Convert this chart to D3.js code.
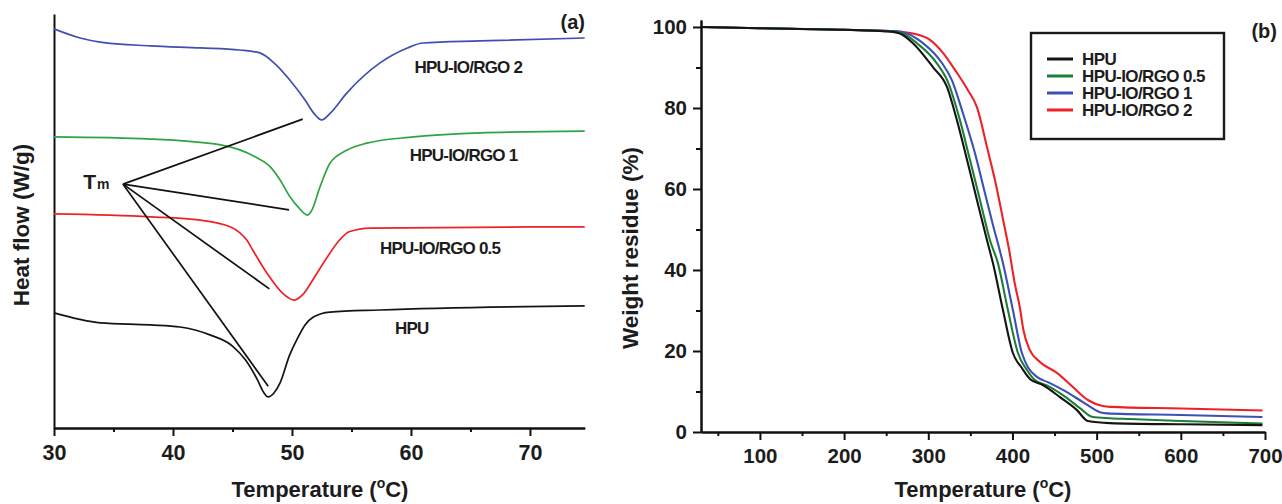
<!DOCTYPE html>
<html>
<head>
<meta charset="utf-8">
<script src="https://cdn.jsdelivr.net/npm/d3@7"></script>
<style>
  html, body { margin: 0; padding: 0; background: #fff; }
  svg { display: block; font-family: "Liberation Sans", Arial, sans-serif; }
</style>
</head>
<body>
<svg id="chart" width="1282" height="504"></svg>
<script>
// ---------------- DATA ----------------
// Panel (a): DSC curves, [temperature °C, heat flow (arbitrary, stacked)]
const dscHPU = [[30,2.78],[33.9,2.54],[38.1,2.49],[40.6,2.44],[43.1,2.25],[45.0,1.98],[46.1,1.64],[47.1,1.16],[47.6,0.87],[48.0,0.75],[48.5,0.85],[49.0,1.09],[49.8,1.76],[50.4,2.13],[51.1,2.49],[51.8,2.68],[53.2,2.80],[57.4,2.85],[74.6,2.95]];
const dscRGO05 = [[30,5.17],[38.1,5.10],[42.3,5.02],[44.8,4.86],[45.6,4.72],[46.2,4.54],[46.7,4.30],[47.9,3.74],[49.2,3.26],[50.2,3.09],[50.9,3.22],[51.8,3.60],[52.9,4.10],[54.0,4.54],[54.8,4.74],[56.6,4.83],[74.6,4.86]];
const dscRGO1 = [[30,7.03],[38.1,6.98],[44.0,6.84],[46.9,6.55],[48.2,6.30],[49.0,5.99],[49.8,5.60],[50.6,5.31],[51.0,5.19],[51.3,5.14],[51.65,5.25],[52.35,5.82],[53.2,6.40],[54.6,6.71],[56.3,6.88],[60.2,7.03],[65.8,7.13],[74.6,7.17]];
const dscRGO2 = [[30,9.64],[32.2,9.42],[33.9,9.32],[38.1,9.23],[42.3,9.18],[45.6,9.13],[47.3,9.06],[48.6,8.79],[49.8,8.41],[51.1,7.92],[51.9,7.58],[52.5,7.44],[53.2,7.60],[54.6,8.09],[57.4,8.82],[59.7,9.18],[61.0,9.30],[65.8,9.35],[74.6,9.42]];
const dscLabels = ["HPU", "HPU-IO/RGO 0.5", "HPU-IO/RGO 1", "HPU-IO/RGO 2"];
const dscColors = ["#141414", "#ee2127", "#2ea443", "#3f4fb2"];
const dscXTicks = [30, 40, 50, 60, 70];
const dscXMinor = [35, 45, 55, 65];
// Tm pointers: origin and peak targets [T, heat flow]
const tmOrigin = [35.8, 5.89];
const tmTargets = [[50.9, 7.46], [49.75, 5.27], [48.1, 3.36], [48.0, 1.01]];

// Panel (b): TGA curves, [temperature °C, weight residue %]
const tgaHPU = [[30,100],[100,99.7],[200,99.3],[242.6,99.0],[258,98.8],[266.3,98.4],[281.8,96.0],[305.5,90.1],[322.2,85.2],[334,77.0],[346,67.2],[357.8,57.3],[369.7,47.4],[376.8,41.7],[388.7,30.1],[400.5,19.5],[411.2,15.8],[420.7,13.1],[436.2,11.6],[456.4,8.6],[476.6,5.4],[489.6,2.7],[515.7,2.2],[600,1.9],[697,1.7]];
const tgaRGO05 = [[30,100],[100,99.7],[200,99.3],[242.6,99.0],[258,98.9],[270,98.4],[286.5,96.0],[310,91.1],[323.4,86.4],[337.6,77.0],[349.5,67.2],[361.4,57.3],[373.2,47.4],[382.7,41.7],[394.6,30.1],[406.5,19.5],[417.2,15.3],[426.7,12.8],[442.1,11.4],[459.9,9.1],[480.1,5.9],[495.5,3.7],[515.7,3.4],[540,3.2],[600,2.7],[697,2.1]];
const tgaRGO1 = [[30,100],[100,99.7],[200,99.3],[242.6,99.1],[260,99.0],[274.7,98.4],[293.7,96.0],[316.2,91.1],[328,86.9],[341,78.8],[355.4,68.9],[367.3,59.0],[377,51.0],[388.7,41.7],[400.5,30.1],[411.2,19.5],[418.4,16.0],[429,13.6],[442.1,12.3],[459.9,10.4],[483.7,7.4],[503.9,4.9],[512,4.6],[600,4.2],[697,3.7]];
const tgaRGO2 = [[30,100],[100,99.7],[200,99.3],[242.6,99.1],[265,98.9],[281.8,98.4],[302,96.8],[317.4,93.6],[331.7,89.4],[347.1,84.4],[357.8,80.2],[369.7,70.4],[379.2,62.2],[389,52.3],[396,45.0],[402.9,36.5],[409,30.5],[413,25.2],[420.7,20.2],[432.6,17.3],[452.8,14.6],[471.8,11.1],[489.6,7.9],[507.4,6.4],[516,6.2],[600,5.8],[697,5.3]];
const tgaLabels = ["HPU", "HPU-IO/RGO 0.5", "HPU-IO/RGO 1", "HPU-IO/RGO 2"];
const tgaColors = ["#141414", "#1f7d38", "#3c50b6", "#ee2127"];
const tgaXTicks = [100, 200, 300, 400, 500, 600, 700];
const tgaXMinor = [50, 150, 250, 350, 450, 550, 650];
const tgaYTicks = [0, 20, 40, 60, 80, 100];
const tgaYMinor = [10, 30, 50, 70, 90];

// ---------------- DRAW ----------------
const svg = d3.select("#chart");
const FONT = '"Liberation Sans", Arial, sans-serif';
const TXT = "#1c1c1c";

function styleAxis(g, fs) {
  g.select(".domain").attr("stroke", "#111").attr("stroke-width", 2);
  g.selectAll(".tick line").attr("stroke", "#111").attr("stroke-width", 2);
  g.selectAll(".tick text").attr("fill", TXT).attr("font-size", fs)
    .attr("font-weight", "bold").attr("font-family", FONT);
}

function tempTitle(x, y) {
  const t = svg.append("text").attr("x", x).attr("y", y).attr("text-anchor", "middle")
    .attr("font-size", 22).attr("font-weight", "bold").attr("fill", TXT);
  t.append("tspan").text("Temperature (");
  t.append("tspan").attr("font-size", 14).attr("dy", -9).text("o");
  t.append("tspan").attr("dy", 9).text("C)");
}

// ---- Panel (a) ----
const xA = d3.scaleLinear().domain([30, 74.6]).range([54, 584.7]);
const yA = d3.scaleLinear().domain([0, 10]).range([428, 14]);

svg.append("g").attr("transform", `translate(0,${yA(0)})`)
  .call(d3.axisBottom(xA).tickValues(dscXMinor).tickSize(4).tickSizeOuter(0).tickFormat(""))
  .call(g => styleAxis(g, 21.5));
svg.append("g").attr("transform", `translate(0,${yA(0)})`)
  .call(d3.axisBottom(xA).tickValues(dscXTicks).tickSize(8).tickPadding(8.8).tickSizeOuter(0).tickFormat(d3.format("d")))
  .call(g => styleAxis(g, 21.5));
svg.append("g").attr("transform", `translate(${xA(30)},0)`)
  .call(d3.axisLeft(yA).tickValues([]).tickSizeOuter(0))
  .call(g => styleAxis(g, 21.5));

const lineA = d3.line().x(d => xA(d[0])).y(d => yA(d[1])).curve(d3.curveMonotoneX);
[dscHPU, dscRGO05, dscRGO1, dscRGO2].forEach((s, i) => {
  svg.append("path").datum(s).attr("d", lineA).attr("fill", "none")
    .attr("stroke", dscColors[i]).attr("stroke-width", 1.7).attr("stroke-linejoin", "round");
});

// Tm pointer lines
tmTargets.forEach(t => {
  svg.append("line").attr("x1", xA(tmOrigin[0])).attr("y1", yA(tmOrigin[1]))
    .attr("x2", xA(t[0])).attr("y2", yA(t[1])).attr("stroke", "#111").attr("stroke-width", 1.7);
});
const tm = svg.append("text").attr("x", xA(32.45)).attr("y", yA(5.77))
  .attr("font-size", 21).attr("fill", TXT).attr("font-weight", "bold");
tm.append("tspan").text("T");
tm.append("tspan").attr("font-size", 14).attr("dx", 1).text("m");

// Series labels in panel (a)
const dscLabelPos = [[58.65, 2.42], [57.4, 4.35], [59.9, 6.59], [60.3, 8.72]];
dscLabels.forEach((l, i) => {
  svg.append("text").attr("x", xA(dscLabelPos[i][0])).attr("y", yA(dscLabelPos[i][1]))
    .attr("dy", "0.36em").attr("font-size", 17).attr("font-weight", "bold")
    .attr("letter-spacing", "-0.8px").attr("fill", TXT).text(l);
});

svg.append("text").attr("x", 585).attr("y", 29).attr("text-anchor", "end")
  .attr("font-size", 20).attr("font-weight", "bold").attr("fill", TXT).text("(a)");
tempTitle(320, 497);
svg.append("text").attr("transform", "translate(29,225) rotate(-90)").attr("text-anchor", "middle")
  .attr("font-size", 22.5).attr("font-weight", "bold").attr("fill", TXT).text("Heat flow (W/g)");

// ---- Panel (b) ----
const xB = d3.scaleLinear().domain([30, 700]).range([701, 1265]);
const yB = d3.scaleLinear().domain([0, 101.7]).range([432, 20.1]);

svg.append("g").attr("transform", `translate(0,${yB(0)})`)
  .call(d3.axisBottom(xB).tickValues(tgaXMinor).tickSize(4).tickSizeOuter(0).tickFormat(""))
  .call(g => styleAxis(g, 20.5));
svg.append("g").attr("transform", `translate(0,${yB(0)})`)
  .call(d3.axisBottom(xB).tickValues(tgaXTicks).tickSize(8).tickPadding(8.6).tickSizeOuter(0).tickFormat(d3.format("d")))
  .call(g => styleAxis(g, 20.5));
svg.append("g").attr("transform", `translate(${xB(30)},0)`)
  .call(d3.axisLeft(yB).tickValues(tgaYMinor).tickSize(5).tickSizeOuter(0).tickFormat(""))
  .call(g => styleAxis(g, 20.5));
svg.append("g").attr("transform", `translate(${xB(30)},0)`)
  .call(d3.axisLeft(yB).tickValues(tgaYTicks).tickSize(8).tickPadding(6).tickSizeOuter(0).tickFormat(d3.format("d")))
  .call(g => styleAxis(g, 20.5));

const lineB = d3.line().x(d => xB(d[0])).y(d => yB(d[1])).curve(d3.curveMonotoneX);
const tgaSeries = [tgaHPU, tgaRGO05, tgaRGO1, tgaRGO2];
[3, 2, 1, 0].forEach(i => {
  svg.append("path").datum(tgaSeries[i]).attr("d", lineB).attr("fill", "none")
    .attr("stroke", tgaColors[i]).attr("stroke-width", 2.1).attr("stroke-linejoin", "round");
});

// Legend
const lg = svg.append("g").attr("transform", "translate(1031,33)");
lg.append("rect").attr("width", 193).attr("height", 106).attr("fill", "#fff")
  .attr("stroke", "#1a1a1a").attr("stroke-width", 2.4);
tgaLabels.forEach((l, i) => {
  const yy = 26 + i * 17;
  lg.append("line").attr("x1", 16).attr("x2", 42).attr("y1", yy).attr("y2", yy)
    .attr("stroke", tgaColors[i]).attr("stroke-width", 3);
  lg.append("text").attr("x", 51).attr("y", yy).attr("dy", "0.36em")
    .attr("font-size", 17).attr("font-weight", "bold").attr("letter-spacing", "-0.6px")
    .attr("fill", TXT).text(l);
});

svg.append("text").attr("x", 1277).attr("y", 38).attr("text-anchor", "end")
  .attr("font-size", 20).attr("font-weight", "bold").attr("fill", TXT).text("(b)");
tempTitle(983, 497);
svg.append("text").attr("transform", "translate(638,248) rotate(-90)").attr("text-anchor", "middle")
  .attr("font-size", 22.5).attr("font-weight", "bold").attr("fill", TXT).text("Weight residue (%)");
</script>
</body>
</html>
